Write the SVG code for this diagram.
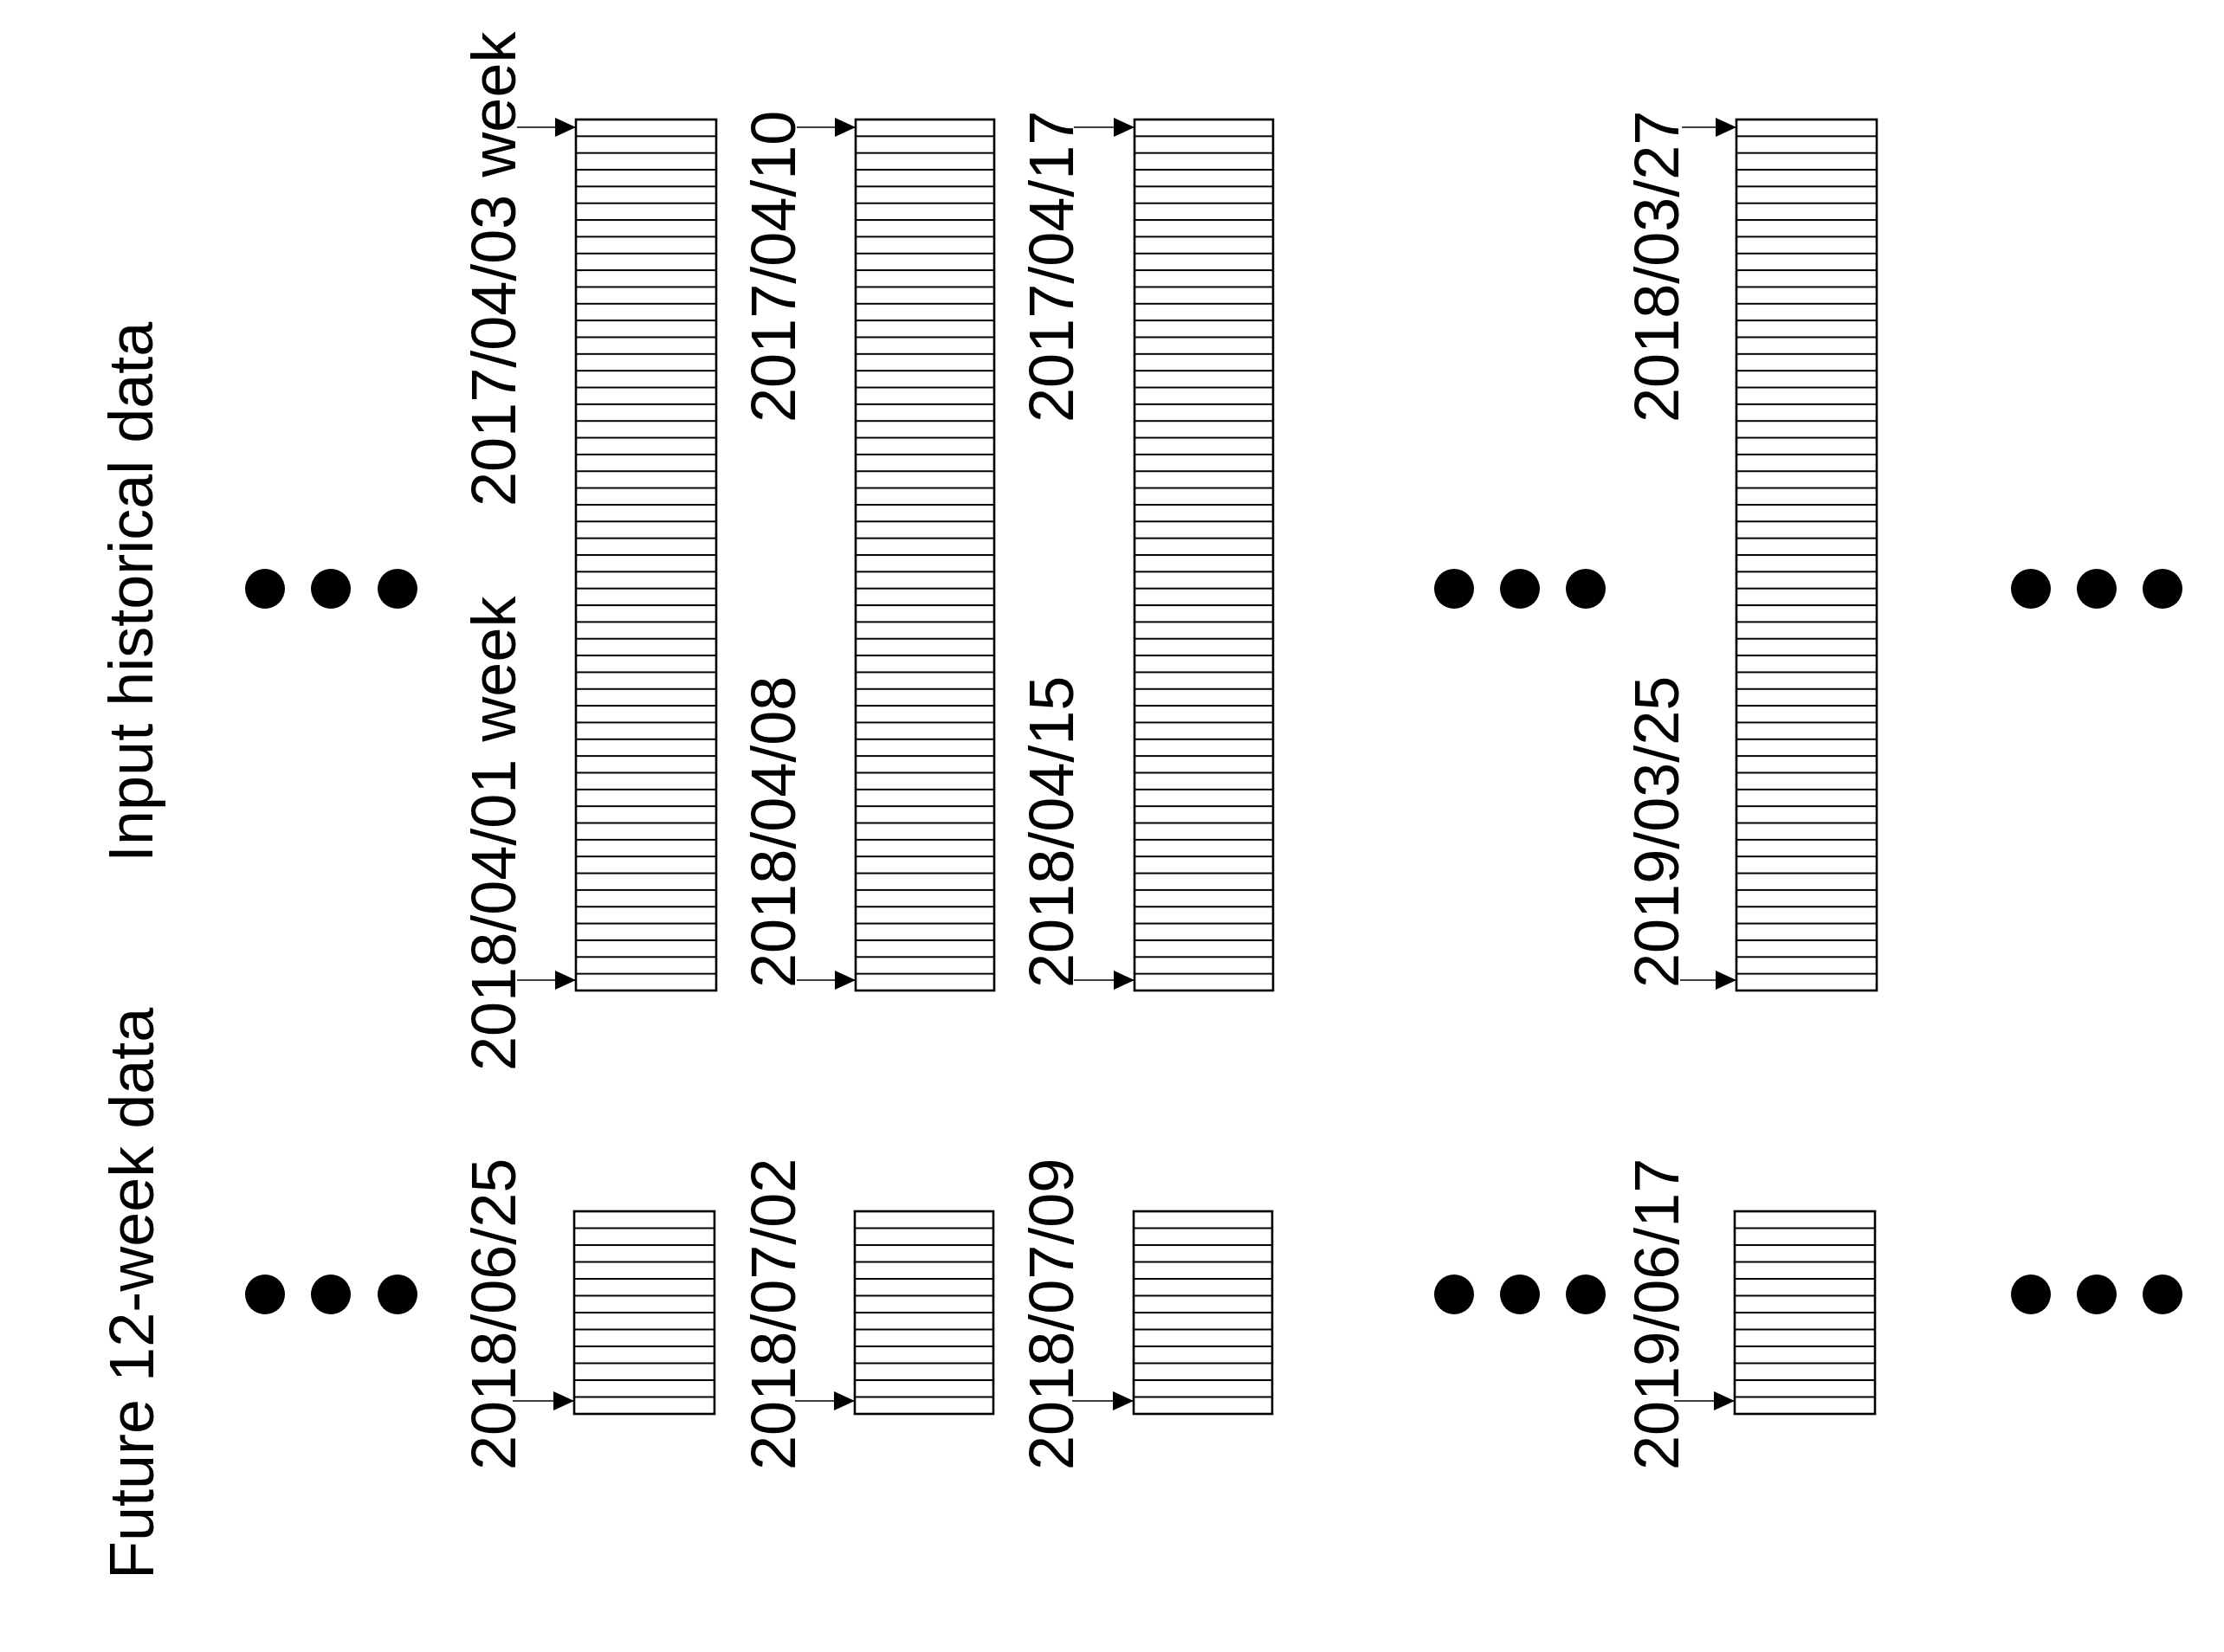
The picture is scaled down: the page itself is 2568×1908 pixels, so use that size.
<svg xmlns="http://www.w3.org/2000/svg" width="2568" height="1908" viewBox="0 0 2568 1908">
<style>
text{font-family:"Liberation Sans",Arial,sans-serif;font-size:72px;fill:#000}
.box{stroke:#000;stroke-width:2.6}
.hist{fill:url(#p52)}
.fut{fill:url(#p12)}
.arr{stroke:#000;stroke-width:1.6;fill:none;marker-end:url(#ah)}
.dot{fill:#000}
</style>
<defs>
<pattern id="p52" patternUnits="userSpaceOnUse" x="0" y="137" width="2568" height="19.346">
<rect x="0" y="0" width="2568" height="19.346" fill="#fff"/>
<rect x="0" y="0" width="2568" height="2" fill="#000"/>
</pattern>
<pattern id="p12" patternUnits="userSpaceOnUse" x="0" y="1398" width="2568" height="19.5">
<rect x="0" y="0" width="2568" height="19.5" fill="#fff"/>
<rect x="0" y="0" width="2568" height="2" fill="#000"/>
</pattern>
<marker id="ah" markerUnits="userSpaceOnUse" markerWidth="24" markerHeight="22" viewBox="0 0 24 22" refX="24" refY="11" orient="auto">
<path d="M0,0 L24,11 L0,22 z" fill="#000"/>
</marker>
</defs>
<rect width="2568" height="1908" fill="#fff"/>

<g id="title-input"><text transform="translate(176,996) rotate(-90)">Input historical data</text></g>
<g id="title-future"><text transform="translate(177,1824) rotate(-90)">Future 12-week data</text></g>

<g id="dots-top">
<circle class="dot" cx="306" cy="680" r="23"/><circle class="dot" cx="382" cy="680" r="23"/><circle class="dot" cx="459" cy="680" r="23"/>
<circle class="dot" cx="1679" cy="680" r="23"/><circle class="dot" cx="1755" cy="680" r="23"/><circle class="dot" cx="1831" cy="680" r="23"/>
<circle class="dot" cx="2345" cy="680" r="23"/><circle class="dot" cx="2421" cy="680" r="23"/><circle class="dot" cx="2497" cy="680" r="23"/>
</g>
<g id="dots-bottom">
<circle class="dot" cx="306" cy="1495" r="23"/><circle class="dot" cx="382" cy="1495" r="23"/><circle class="dot" cx="459" cy="1495" r="23"/>
<circle class="dot" cx="1679" cy="1495" r="23"/><circle class="dot" cx="1755" cy="1495" r="23"/><circle class="dot" cx="1831" cy="1495" r="23"/>
<circle class="dot" cx="2345" cy="1495" r="23"/><circle class="dot" cx="2421" cy="1495" r="23"/><circle class="dot" cx="2497" cy="1495" r="23"/>
</g>

<g id="hist-1">
<rect class="box hist" x="665" y="138" width="162" height="1006"/>
<text transform="translate(595,585) rotate(-90)">2017/04/03 week</text>
<text transform="translate(595,1237) rotate(-90)">2018/04/01 week</text>
</g>
<g id="hist-2">
<rect class="box hist" x="988" y="138" width="160" height="1006"/>
<text transform="translate(918,488) rotate(-90)">2017/04/10</text>
<text transform="translate(918,1141) rotate(-90)">2018/04/08</text>
</g>
<g id="hist-3">
<rect class="box hist" x="1310" y="138" width="160" height="1006"/>
<text transform="translate(1239,488) rotate(-90)">2017/04/17</text>
<text transform="translate(1239,1141) rotate(-90)">2018/04/15</text>
</g>
<g id="hist-4">
<rect class="box hist" x="2005" y="138" width="162" height="1006"/>
<text transform="translate(1938,488) rotate(-90)">2018/03/27</text>
<text transform="translate(1938,1141) rotate(-90)">2019/03/25</text>
</g>

<g id="fut-1">
<rect class="box fut" x="663" y="1399" width="162" height="234"/>
<text transform="translate(595,1698) rotate(-90)">2018/06/25</text>
</g>
<g id="fut-2">
<rect class="box fut" x="987" y="1399" width="160" height="234"/>
<text transform="translate(918,1698) rotate(-90)">2018/07/02</text>
</g>
<g id="fut-3">
<rect class="box fut" x="1309" y="1399" width="160" height="234"/>
<text transform="translate(1239,1698) rotate(-90)">2018/07/09</text>
</g>
<g id="fut-4">
<rect class="box fut" x="2003" y="1399" width="162" height="234"/>
<text transform="translate(1938,1698) rotate(-90)">2019/06/17</text>
</g>

<g id="connectors">
<line class="arr" x1="597" y1="147" x2="665" y2="147"/>
<line class="arr" x1="597" y1="1132" x2="665" y2="1132"/>
<line class="arr" x1="592" y1="1618" x2="663" y2="1618"/>
<line class="arr" x1="920" y1="147" x2="988" y2="147"/>
<line class="arr" x1="920" y1="1132" x2="988" y2="1132"/>
<line class="arr" x1="918" y1="1618" x2="987" y2="1618"/>
<line class="arr" x1="1240" y1="147" x2="1310" y2="147"/>
<line class="arr" x1="1240" y1="1132" x2="1310" y2="1132"/>
<line class="arr" x1="1238" y1="1618" x2="1309" y2="1618"/>
<line class="arr" x1="1942" y1="147" x2="2005" y2="147"/>
<line class="arr" x1="1940" y1="1132" x2="2005" y2="1132"/>
<line class="arr" x1="1933" y1="1618" x2="2003" y2="1618"/>
</g>
</svg>
